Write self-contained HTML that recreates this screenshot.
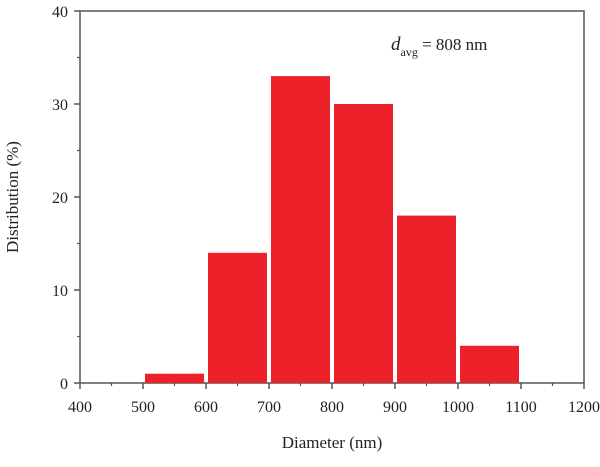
<!DOCTYPE html>
<html><head><meta charset="utf-8"><style>
body{margin:0;background:#fff;}
svg text{font-family:"Liberation Serif",serif;fill:#222;}
</style></head><body>
<svg width="600" height="462" id="chart">
<rect x="80" y="11" width="504" height="372" fill="none" stroke="#555" stroke-width="1.5"/>
<g id="bars"></g><g id="axes"></g>
<text x="391" y="50" font-size="17"><tspan font-style="italic" font-size="19">d</tspan><tspan font-size="12" dy="6">avg</tspan><tspan dy="-6"> = 808 nm</tspan></text>
<text x="332" y="448" font-size="17" text-anchor="middle">Diameter (nm)</text>
<text transform="translate(18,197) rotate(-90)" font-size="17" text-anchor="middle">Distribution (%)</text>
</svg>
<script>
const binStarts=[500,600,700,800,900,1000];
const values=[1,14,33,30,18,4];
const binWidth=100;
const xTicks=[400,500,600,700,800,900,1000,1100,1200];
const yTicks=[0,10,20,30,40];
const X=v=>80+(v-400)*504/800;
const Y=v=>383-v*372/40;
const ns="http://www.w3.org/2000/svg";
const bars=document.getElementById('bars'),axes=document.getElementById('axes');
function mk(tag,attrs,parent){const e=document.createElementNS(ns,tag);for(const k in attrs)e.setAttribute(k,attrs[k]);parent.appendChild(e);return e;}
values.forEach((v,i)=>{
 const x0=X(binStarts[i])+2,x1=X(binStarts[i]+binWidth)-2;
 const r=mk('rect',{x:x0,y:Y(v),width:x1-x0,height:Y(0)-Y(v),fill:'#ed2129'},bars);
 
 
});
xTicks.forEach((t,i)=>{
 const l=mk('line',{x1:X(t),x2:X(t),y1:383,y2:389,stroke:'#555','stroke-width':1.5},axes);
 
 
 if(i<xTicks.length-1){const m=mk('line',{x1:X(t+50),x2:X(t+50),y1:383,y2:386,stroke:'#555','stroke-width':1.2},axes);
 
 }
 const tx=mk('text',{x:X(t),y:412,'font-size':16,'text-anchor':'middle'},axes);tx.textContent=t;
 
 
});
yTicks.forEach((t,i)=>{
 const l=mk('line',{x1:74,x2:80,y1:Y(t),y2:Y(t),stroke:'#555','stroke-width':1.5},axes);
 
 
 if(i<yTicks.length-1){const m=mk('line',{x1:77,x2:80,y1:Y(t+5),y2:Y(t+5),stroke:'#555','stroke-width':1.2},axes);
 
 }
 const tx=mk('text',{x:68,y:Y(t)+6,'font-size':16,'text-anchor':'end'},axes);tx.textContent=t;
 
 
});
</script>
</body></html>
